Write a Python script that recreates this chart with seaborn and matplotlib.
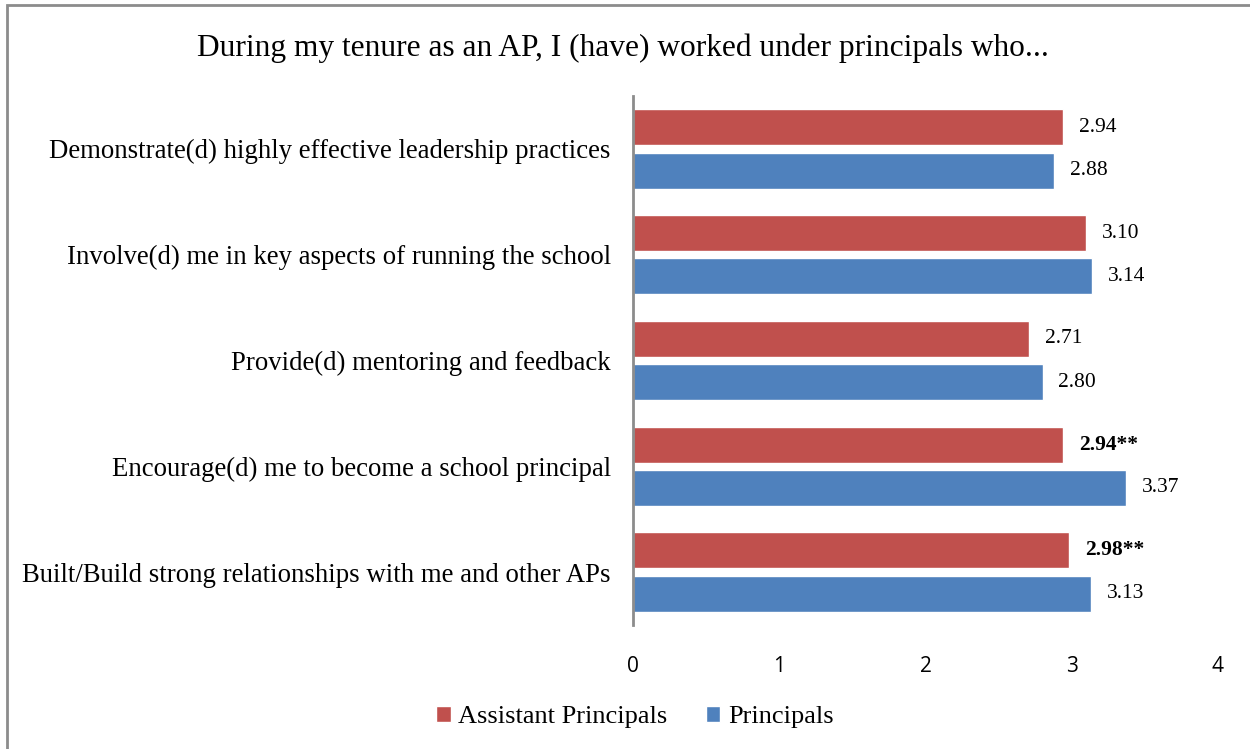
import matplotlib
matplotlib.use("Agg")
import matplotlib.pyplot as plt
import seaborn as sns
import pandas as pd
from matplotlib.patches import Rectangle

# Survey items and mean ratings per respondent group
items = [
    "Demonstrate(d) highly effective leadership practices",
    "Involve(d) me in key aspects of running the school",
    "Provide(d) mentoring and feedback",
    "Encourage(d) me to become a school principal",
    "Built/Build strong relationships with me and other APs",
]
groups = ["Assistant Principals", "Principals"]
ap_scores = [2.94, 3.10, 2.71, 2.94, 2.98]
p_scores = [2.88, 3.14, 2.80, 3.37, 3.13]
ap_significant = [False, False, False, True, True]
p_significant = [False, False, False, False, False]
x_ticks = [0, 1, 2, 3, 4]
title = "During my tenure as an AP, I (have) worked under principals who..."

colors = {"Assistant Principals": "#C0504D", "Principals": "#4F81BD"}

df = pd.DataFrame({
    "item": items * 2,
    "group": [groups[0]] * len(items) + [groups[1]] * len(items),
    "score": ap_scores + p_scores,
})

sns.set_theme(style="white")
plt.rcParams["text.color"] = "black"
plt.rcParams["xtick.color"] = "black"
plt.rcParams["ytick.color"] = "black"
serif = "Liberation Serif"
sans = "Open Sans"

fig = plt.figure(figsize=(12.5, 7.49), dpi=100)
ax = fig.add_axes([0.5064, 0.1656, 0.4680, 0.7062])

sns.barplot(data=df, y="item", x="score", hue="group", order=items,
            hue_order=groups, palette=colors, orient="h",
            width=0.82, gap=0.17, saturation=1, ax=ax, legend=True)

ax.set_xlim(0, 4)
ax.set_ylim(4.5, -0.5)
ax.set_xticks(x_ticks)
ax.set_xticklabels([str(t) for t in x_ticks], fontfamily=sans, fontsize=15,
                   color="black")
ax.tick_params(axis="x", length=0, pad=22)
ax.tick_params(axis="y", length=0, pad=16)
for lbl in ax.get_yticklabels():
    lbl.set_fontfamily(serif)
    lbl.set_fontsize(19.3)
    lbl.set_color("black")
ax.set_xlabel("")
ax.set_ylabel("")
for side in ["top", "right", "bottom"]:
    ax.spines[side].set_visible(False)
ax.spines["left"].set_color("#8c8c8c")
ax.spines["left"].set_linewidth(2)

# Value labels; significant differences are shown in bold with asterisks
for container, vals, sig in zip(ax.containers, [ap_scores, p_scores],
                                [ap_significant, p_significant]):
    texts = ax.bar_label(container,
                         labels=[f"{v:.2f}**" if s else f"{v:.2f}" for v, s in zip(vals, sig)],
                         padding=11.5, fontfamily=serif, fontsize=15.5,
                         color="black")
    for t, s in zip(texts, sig):
        if s:
            t.set_fontweight("bold")

# Legend beneath the plot
handles, labels = ax.get_legend_handles_labels()
ax.get_legend().remove()
leg = fig.legend(handles, labels, loc="center", bbox_to_anchor=(0.508, 0.043),
                 ncol=2, frameon=False, handlelength=0.55, handleheight=0.55,
                 handletextpad=0.3, columnspacing=1.45,
                 prop={"family": serif, "size": 19})
for t in leg.get_texts():
    t.set_color("black")

fig.text(0.4984, 0.935, title, ha="center", va="center",
         fontfamily=serif, fontsize=22.6, color="black")

# Chart frame
fig.patches.append(Rectangle((7 / 1250, -0.1), 1.2, 1 - 5 / 749 + 0.1,
                             transform=fig.transFigure, fill=False,
                             edgecolor="#8c8c8c", linewidth=2))

fig.savefig("out.png", dpi=100, facecolor="white")
